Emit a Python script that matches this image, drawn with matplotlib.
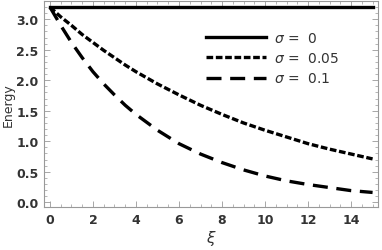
import numpy as np
import matplotlib.pyplot as plt
from matplotlib.ticker import MultipleLocator

# energy vs xi
xi = [0, 0.5, 1, 1.5, 2, 2.5, 3, 3.5, 4, 5, 6, 7, 8, 9, 10, 11, 12, 13, 14, 15]
e_s0 = [3.2] * len(xi)
e_s005 = [3.2, 3.04, 2.90, 2.75, 2.62, 2.49, 2.37, 2.25, 2.14, 1.94, 1.76,
          1.59, 1.44, 1.30, 1.18, 1.07, 0.96, 0.87, 0.79, 0.71]
e_s01 = [3.2, 2.90, 2.62, 2.37, 2.14, 1.94, 1.76, 1.59, 1.44, 1.18, 0.96,
         0.79, 0.65, 0.53, 0.43, 0.35, 0.29, 0.24, 0.19, 0.16]
labels = [r"$\sigma$ =  0", r"$\sigma$ =  0.05", r"$\sigma$ =  0.1"]

fig = plt.figure(figsize=(3.82, 2.51), dpi=100)
ax = fig.add_axes([0.115, 0.171, 0.875, 0.821])

lw = 2.4
ax.plot(xi, e_s0, color="black", lw=lw, label=labels[0])
ax.plot(xi, e_s005, color="black", lw=lw, dashes=(2.0, 0.8), label=labels[1])
ax.plot(xi, e_s01, color="black", lw=lw, dashes=(4.5, 2.6), label=labels[2])

ax.set_xlim(-0.28, 15.26)
ax.set_ylim(-0.08, 3.3)
ax.xaxis.set_major_locator(MultipleLocator(2))
ax.xaxis.set_minor_locator(MultipleLocator(0.5))
ax.yaxis.set_major_locator(MultipleLocator(0.5))
ax.yaxis.set_minor_locator(MultipleLocator(0.1))
ax.yaxis.set_major_formatter(plt.FuncFormatter(lambda v, p: f"{v:.1f}"))

for s in ax.spines.values():
    s.set_color("#999999")
    s.set_linewidth(0.8)
ax.tick_params(which="both", direction="in", top=True, right=True,
               color="#999999", labelsize=9, labelcolor="#333333")
ax.tick_params(which="major", length=4, width=0.6, pad=4)
ax.tick_params(which="minor", length=2, width=0.5)
for t in ax.get_xticklabels() + ax.get_yticklabels():
    t.set_fontweight("bold")

ax.set_xlabel(r"$\xi$", fontsize=11, color="#333333", labelpad=2)
ax.set_ylabel("Energy", fontsize=9, color="#333333", labelpad=1)

ax.legend(loc="upper left", bbox_to_anchor=(0.485, 0.855), frameon=False,
          borderaxespad=0, borderpad=0, fontsize=10, handlelength=4.3,
          handletextpad=0.6, labelspacing=0.45, labelcolor="#333333")

fig.savefig("out.png", dpi=100)
